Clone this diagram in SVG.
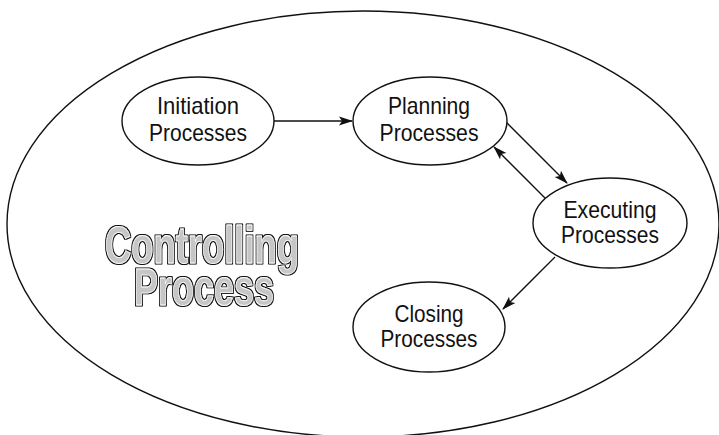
<svg xmlns="http://www.w3.org/2000/svg" width="719" height="435" viewBox="0 0 719 435">
  <style>
    .frame { fill: none; stroke: #111; stroke-width: 1.4; }
    .node ellipse { fill: #fff; stroke: #111; stroke-width: 1.4; }
    .node text { font-family: "Liberation Sans Narrow", "Liberation Sans", Arial, sans-serif; font-size: 24px; fill: #111; text-anchor: middle; }
    .edge { stroke: #111; stroke-width: 1.3; fill: none; marker-end: url(#arrow); }
    .title { font-family: "Liberation Sans Narrow", "Liberation Sans", Arial, sans-serif; font-weight: bold; font-size: 52px; text-anchor: middle; fill: #c6c6c6; stroke: #fff; stroke-width: 0.8; stroke-linejoin: round; filter: url(#outline); }
  </style>
  <defs>
    <marker id="arrow" viewBox="0 0 14 10" refX="13" refY="5" markerUnits="userSpaceOnUse" markerWidth="14" markerHeight="10" orient="auto">
      <path d="M0,0.5 L14,5 L0,9.5 L3,5 Z" fill="#111"/>
    </marker>
    <!-- dark contour around the hollow title lettering -->
    <filter id="outline" x="-10%" y="-20%" width="120%" height="140%">
      <feMorphology in="SourceAlpha" operator="dilate" radius="1.4" result="grown"/>
      <feFlood flood-color="#111"/>
      <feComposite in2="grown" operator="in" result="contour"/>
      <feMerge>
        <feMergeNode in="contour"/>
        <feMergeNode in="SourceGraphic"/>
      </feMerge>
    </filter>
  </defs>

  <rect width="719" height="435" fill="#fff"/>

  <!-- enclosing controlling process boundary -->
  <ellipse class="frame" cx="363" cy="224" rx="356" ry="213"/>

  <g id="controlling-label">
    <text class="title" x="202" y="263" textLength="194" lengthAdjust="spacingAndGlyphs">Controlling</text>
    <text class="title" x="204" y="305" textLength="140" lengthAdjust="spacingAndGlyphs">Process</text>
  </g>

  <g id="connectors">
    <line class="edge" x1="274" y1="121" x2="352" y2="121"/>
    <line class="edge" x1="505" y1="121" x2="567" y2="183"/>
    <line class="edge" x1="545" y1="198" x2="494" y2="147"/>
    <line class="edge" x1="555" y1="257" x2="503" y2="309"/>
  </g>

  <g id="initiation" class="node">
    <ellipse cx="198" cy="121" rx="76" ry="44"/>
    <text x="198" y="114" textLength="82" lengthAdjust="spacingAndGlyphs">Initiation</text>
    <text x="198" y="141" textLength="98" lengthAdjust="spacingAndGlyphs">Processes</text>
  </g>

  <g id="planning" class="node">
    <ellipse cx="430" cy="121" rx="77" ry="44"/>
    <text x="429" y="114" textLength="82" lengthAdjust="spacingAndGlyphs">Planning</text>
    <text x="429" y="141" textLength="99" lengthAdjust="spacingAndGlyphs">Processes</text>
  </g>

  <g id="executing" class="node">
    <ellipse cx="610" cy="223" rx="77" ry="45"/>
    <text x="610" y="218" textLength="93" lengthAdjust="spacingAndGlyphs">Executing</text>
    <text x="610" y="243" textLength="98" lengthAdjust="spacingAndGlyphs">Processes</text>
  </g>

  <g id="closing" class="node">
    <ellipse cx="429" cy="327" rx="76" ry="45"/>
    <text x="429" y="322" textLength="69" lengthAdjust="spacingAndGlyphs">Closing</text>
    <text x="429" y="347" textLength="97" lengthAdjust="spacingAndGlyphs">Processes</text>
  </g>
</svg>
